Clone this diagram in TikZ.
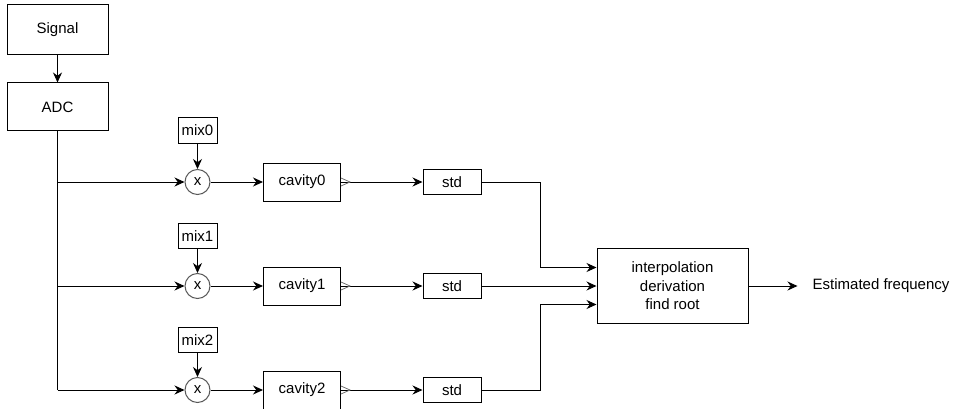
\documentclass[tikz,border=0pt]{standalone}
\usepackage{fontspec}
\setmainfont{Liberation Sans}
\usetikzlibrary{arrows.meta}
\usetikzlibrary{positioning}

\tikzset{
  blk/.style={draw, rectangle, line width=1pt, inner sep=0pt, font=\fontsize{15}{18.5}\selectfont},
  mixer/.style={draw=black!65, circle, line width=1pt, minimum size=25pt, inner sep=0pt, font=\fontsize{15}{18.5}\selectfont},
  wire/.style={line width=1pt, -{Stealth[length=10pt,width=9pt]}},
  port/.style={draw=black!55, line width=0.8pt},
}

\begin{document}
\begin{tikzpicture}[x=1pt,y=-1pt]
\useasboundingbox (0,0) rectangle (963,409);
\node[blk,minimum width=101pt,minimum height=50pt] (signal) at (57.5,30) {Signal};
\node[blk,minimum width=101pt,minimum height=48pt] (adc) at (57.5,107) {ADC};
\draw[wire] (signal) -- (adc);

\foreach \i/\y/\my in {0/182/130.5,1/286/236,2/390/340}{
  \node[blk,minimum width=39pt,minimum height=25pt] (mix\i) at (197.5,\my) {mix\i};
  \node[mixer] (x\i) at (197.5,\y) {x};
  \node[blk,minimum width=77pt,minimum height=38pt] (cav\i) at (302,\y) {cavity\i};
  \node[blk,minimum width=58pt,minimum height=25pt] (std\i) at (452,\y) {std};
  \coordinate (br\i) at (57.5,\y);
  \draw[wire] (mix\i) -- (x\i);
  \draw[wire] (br\i) -- (x\i);
  \draw[wire] (x\i) -- (cav\i);
  \draw[wire] (cav\i) -- (std\i);
  \draw[port] (cav\i.east) ++(0,-4) -- ++(9,4) -- ++(-9,4);
}
\draw[line width=1pt] (adc.south) -- (br2);

\node[blk,minimum width=151pt,minimum height=75pt,align=center] (interp) at (672.5,286) {interpolation\\derivation\\find root};
\coordinate (in0) at ([yshift=18.5pt]interp.west);
\coordinate (in2) at ([yshift=-18.5pt]interp.west);
\draw[wire] (std0.east) -- ++(59,0) |- (in0);
\draw[wire] (std1) -- (interp);
\draw[wire] (std2.east) -- ++(59,0) |- (in2);

\node[right=49pt of interp, inner xsep=15pt, inner ysep=0pt, font=\fontsize{15}{18.5}\selectfont] (est) {Estimated frequency};
\draw[wire] (interp) -- (est);
\end{tikzpicture}
\end{document}
